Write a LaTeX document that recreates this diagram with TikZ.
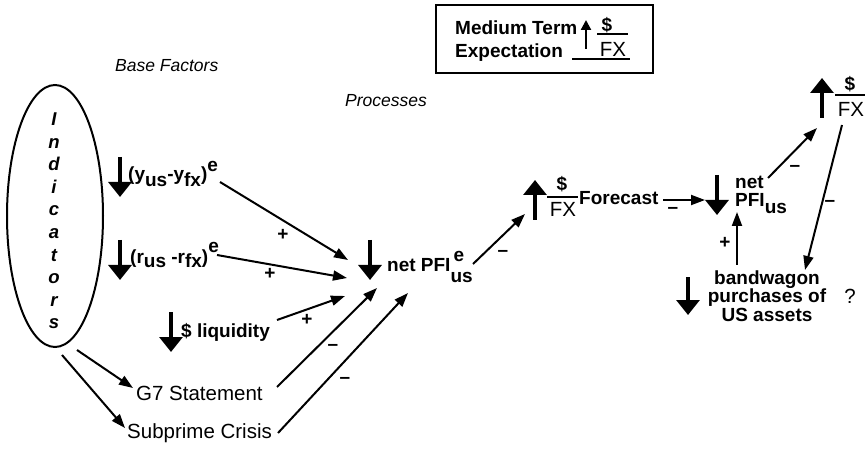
\documentclass[tikz,border=0pt]{standalone}
\usepackage{fontspec}
\setmainfont{Liberation Sans}
\usetikzlibrary{arrows.meta,shapes.geometric}
\newcommand\lowr[2][6pt]{\raisebox{-#1}{#2}}
\newcommand\highr[2][9pt]{\raisebox{#1}{#2}}
\newcommand\tightlines{\lineskiplimit=-20pt\relax}
\begin{document}
\begin{tikzpicture}[x=1pt,y=-1pt,
  bigarrow/.style={line width=3.2pt,-{Triangle[width=23pt,length=15pt]}},
  smallarrow/.style={line width=2.2pt,-{Triangle[width=10pt,length=10pt]}},
  conn/.style={line width=2pt,-{Triangle[width=10pt,length=14pt]}},
  fracbar/.style={line width=1.6pt},
  bt/.style={font=\fontsize{19}{19}\selectfont\bfseries, inner sep=0pt, anchor=base west},
  rt/.style={font=\fontsize{20.5}{20.5}\selectfont, inner sep=0pt, anchor=base west},
  itx/.style={font=\fontsize{17.5}{17.5}\selectfont\itshape, inner sep=0pt, anchor=base west},
  letter/.style={font=\fontsize{18.5}{18.5}\selectfont\bfseries\itshape, inner sep=0pt, anchor=base},
  sign/.style={font=\fontsize{19}{19}\selectfont\bfseries, inner sep=0pt}]
\useasboundingbox (0,0) rectangle (865,449);

% headings
\node[itx] (basef) at (115,72) {Base Factors};
\node[itx] (proc) at (345,107) {Processes};

% indicators ellipse
\node[draw, ellipse, line width=2pt, minimum width=96pt, minimum height=262pt, inner sep=0pt] (ind) at (55,216) {};
\foreach \ch [count=\k] in {I,n,d,i,c,a,t,o,r,s}
  \node[letter] (L\k) at (54,{125.5+22.6*(\k-1)}) {\ch};

% medium term box
\node[draw, line width=1.5pt, minimum width=217pt, minimum height=68pt, inner sep=0pt] (box) at (544.5,39) {};
\node[bt] (mt) at (455,35) {Medium Term};
\node[bt] (ex) at (455,58) {Expectation};
\draw[smallarrow] (586,49) -- (586,20);
\node[bt, anchor=base] (bd) at (607,32) {\$};
\draw[fracbar] (597,34) -- (628,34);
\node[rt, anchor=base] (bfx) at (613,57) {FX};
\draw[fracbar] (572,59) -- (630,59);

% base factors
\draw[bigarrow] (120,157) -- (120,197);
\node[bt] (ydiff) at (128,181) {(y\lowr{us}-y\lowr{fx})\highr{e}};
\draw[bigarrow] (120,240) -- (120,280);
\node[bt] (rdiff) at (130,263) {(r\lowr[5pt]{us} -r\lowr[5pt]{fx})\highr[10pt]{e}};
\draw[bigarrow] (171,312) -- (171,352);
\node[bt] (liq) at (181,337) {\$ liquidity};
\node[rt] (g7) at (136,400) {G7 Statement};
\node[rt] (sub) at (127,438) {Subprime Crisis};

% net PFI expected
\draw[bigarrow] (370,240) -- (370,280);
\node[bt] (npfi) at (387,272) {net PFI\rlap{\highr[10pt]{\,e}}\lowr[10pt]{us}};

% forecast
\draw[bigarrow] (535,220) -- (535,180);
\node[bt, anchor=base] (fcd) at (562,191) {\$};
\draw[fracbar] (547,197) -- (578,197);
\node[rt, anchor=base] (fcx) at (563,217) {FX};
\node[bt] (fc) at (579,205) {Forecast};

% net PFI us
\draw[bigarrow] (717,175) -- (717,215);
\node[bt, anchor=north west, align=left,
      font=\fontsize{19}{18}\selectfont\bfseries\tightlines] (npfi2) at (735,175.5) {net\\PFI\lowr[7pt]{us}};

% top right $/FX
\draw[bigarrow] (822,118) -- (822,78);
\node[bt, anchor=base] (d3) at (850,91) {\$};
\draw[fracbar] (835,95) -- (865,95);
\node[rt, anchor=base] (fx3) at (851,117) {FX};

% bandwagon
\draw[bigarrow] (688,277) -- (688,315);
\node[bt, anchor=north, align=center,
      font=\fontsize{19}{18.5}\selectfont\bfseries\tightlines] (bw) at (767,270.5) {bandwagon\\purchases of\\US assets};
\node[rt, anchor=base] (q) at (850,303) {?};

% connector end points
\coordinate (s1) at (220,182); \coordinate (e1) at (348,260);
\coordinate (s2) at (217,255); \coordinate (e2) at (347,278);
\coordinate (s3) at (277,320); \coordinate (e3) at (345,296);
\coordinate (s4) at (277,387); \coordinate (e4) at (377,288);
\coordinate (s5) at (278,433); \coordinate (e5) at (408,293);
\coordinate (s6) at (77,350);  \coordinate (e6) at (133,388);
\coordinate (s7) at (62,355);  \coordinate (e7) at (125,428);
\coordinate (s8) at (473,264); \coordinate (e8) at (525,214);
\coordinate (s9) at (663,200); \coordinate (e9) at (705,200);
\coordinate (s10) at (768,178); \coordinate (e10) at (817,128);
\coordinate (s11) at (842,125); \coordinate (e11) at (805,270);
\coordinate (s12) at (737,265); \coordinate (e12) at (737,212);

\draw[conn] (s1) -- (e1);
\draw[conn] (s2) -- (e2);
\draw[conn] (s3) -- (e3);
\draw[conn] (s4) -- (e4);
\draw[conn] (s5) -- (e5);
\draw[conn] (s6) -- (e6);
\draw[conn] (s7) -- (e7);
\draw[conn] (s8) -- (e8);
\draw[conn] (s9) -- (e9);
\draw[conn] (s10) -- (e10);
\draw[conn] (s11) -- (e11);
\draw[conn] (s12) -- (e12);

% signs
\node[sign] (p1) at (283,235) {+};
\node[sign] (p2) at (270,274) {+};
\node[sign] (p3) at (307,320) {+};
\node[sign] (m4) at (333,347) {--};
\node[sign] (m5) at (345,380) {--};
\node[sign] (m8) at (503,253) {--};
\node[sign] (m9) at (673,210) {--};
\node[sign] (m10) at (795,168) {--};
\node[sign] (m11) at (830,203) {--};
\node[sign] (p12) at (725,243) {+};
\end{tikzpicture}
\end{document}
